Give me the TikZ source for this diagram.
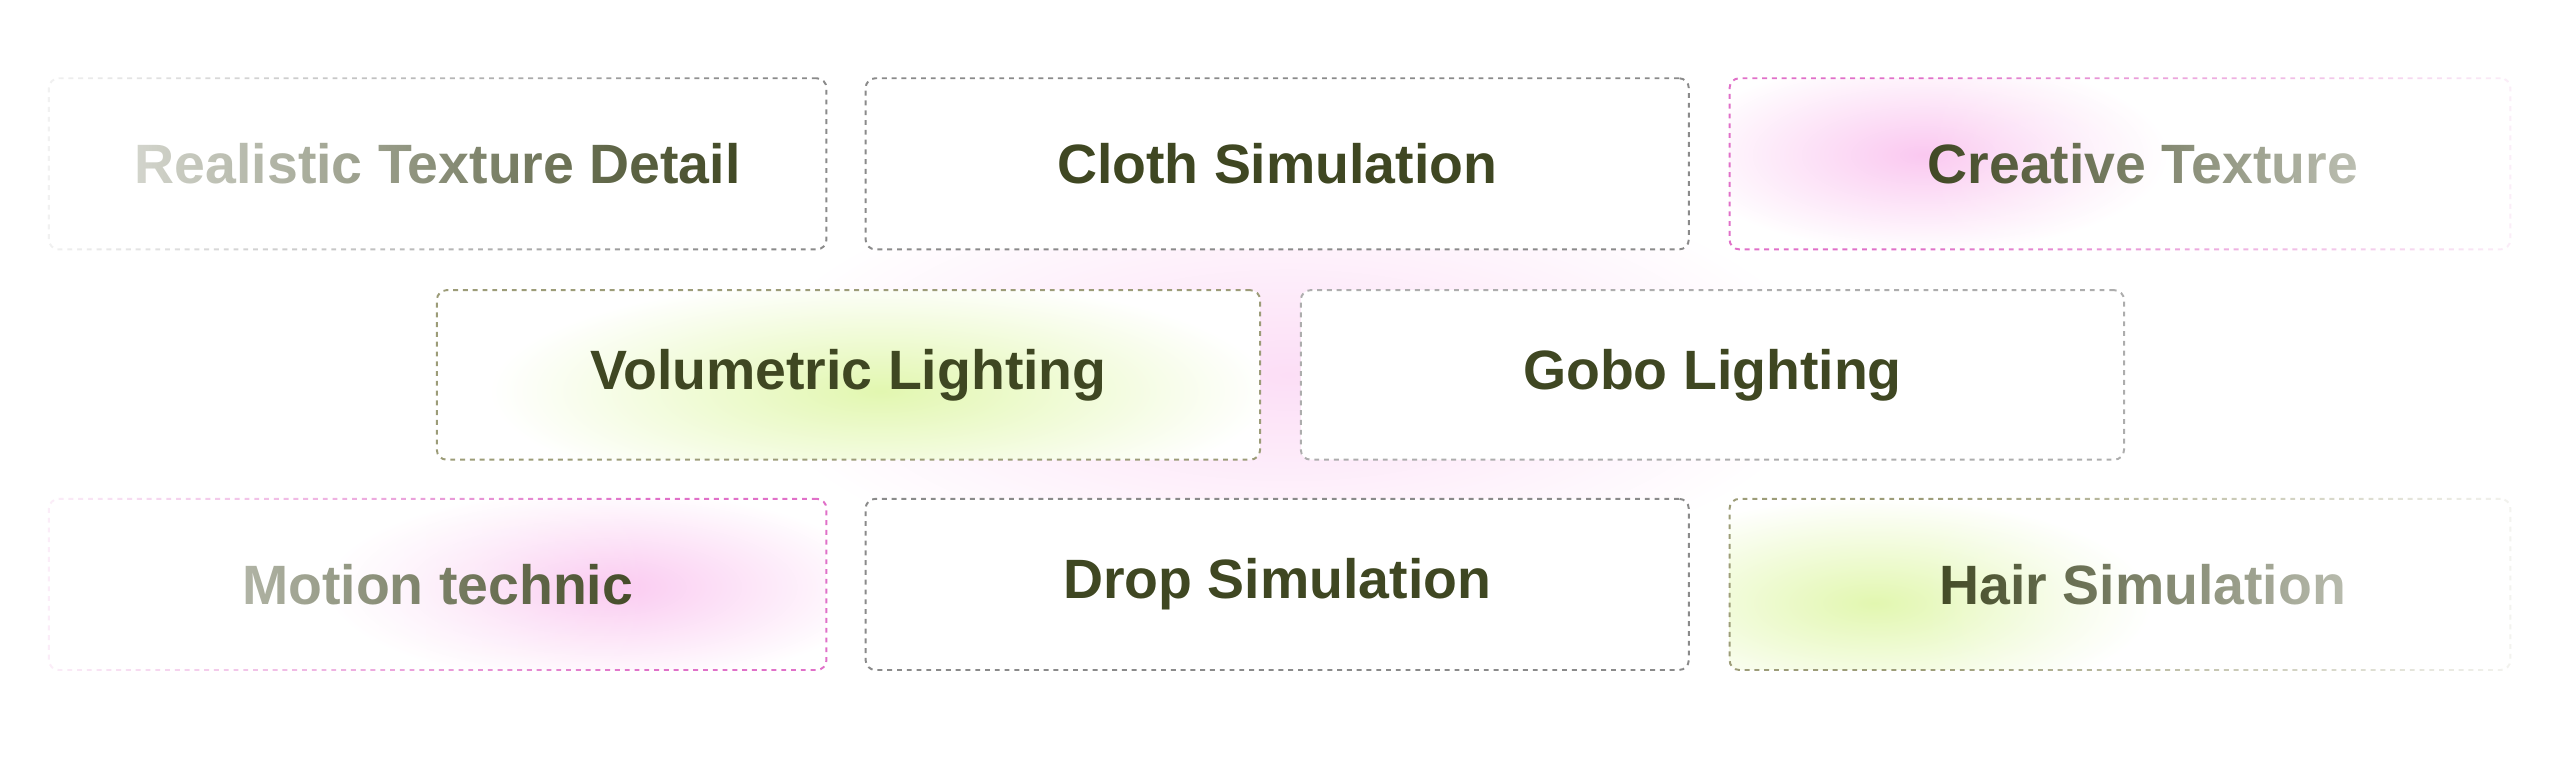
\documentclass[tikz,border=0pt]{standalone}
\usepackage{fontspec}
\setmainfont{Liberation Sans}
\usetikzlibrary{fadings}
\definecolor{olive}{HTML}{3F4722}
\definecolor{dashgray}{HTML}{8A8A8A}
\definecolor{dashpink}{HTML}{E070C8}
\definecolor{dashgreen}{HTML}{9C9C78}
\definecolor{glowpink}{HTML}{FAC8F0}
\definecolor{glowgreen}{HTML}{E2F7B0}
\tikzset{
	box/.style={draw=dashgray, dashed, line width=1.2pt, rounded corners=6pt,
		fill=white, minimum height=105pt, inner sep=0pt,
		text=olive, font=\fontsize{34}{40}\selectfont\bfseries},
	pinkbox/.style={box, draw=dashpink},
	greenbox/.style={box, draw=dashgreen},
	glow/.style={inner color=#1, outer color=white},
	fadeout/.style={fill=white, opacity=.9, path fading=#1}
}
\begin{document}
\begin{tikzpicture}[x=1pt,y=-1pt]
\useasboundingbox (0,0) rectangle (1568,469);

% background glow in the gaps
\shade[glow=glowpink!60] (790,230) ellipse (330 and 130);

% top row
\node[box, minimum width=477pt] (texture) at (268.5,100.5) {Realistic Texture Detail};
\node[box, minimum width=505pt] (cloth) at (783.5,100.5) {Cloth Simulation};
\begin{scope}
	\clip[rounded corners=6pt] (1061,48) rectangle (1540,153);
	\fill[white] (1061,48) rectangle (1540,153);
	\shade[glow=glowpink] (1180,95) ellipse (150 and 60);
\end{scope}
\node[pinkbox, fill=none, minimum width=479pt] (creative) at (1300.5,100.5) {\hspace{28pt}Creative Texture};

% middle row
\begin{scope}
	\clip[rounded corners=6pt] (268,178) rectangle (773,282);
	\fill[white] (268,178) rectangle (773,282);
	\shade[glow=glowgreen] (540,240) ellipse (240 and 70);
\end{scope}
\node[greenbox, fill=none, minimum width=505pt, minimum height=104pt] (volumetric) at (520.5,230) {Volumetric Lighting};
\node[box, draw=dashgray!70, minimum width=505pt, minimum height=104pt] (gobo) at (1050.5,230) {Gobo Lighting};

% bottom row
\begin{scope}
	\clip[rounded corners=6pt] (30,306) rectangle (507,411);
	\fill[white] (30,306) rectangle (507,411);
	\shade[glow=glowpink] (370,360) ellipse (170 and 60);
\end{scope}
\node[pinkbox, fill=none, minimum width=477pt] (motion) at (268.5,358.5) {Motion technic};
\node[box, minimum width=505pt] (drop) at (783.5,358.5) {Drop Simulation};
\begin{scope}
	\clip[rounded corners=6pt] (1061,306) rectangle (1540,411);
	\fill[white] (1061,306) rectangle (1540,411);
	\shade[glow=glowgreen] (1150,370) ellipse (170 and 65);
\end{scope}
\node[greenbox, fill=none, minimum width=479pt] (hair) at (1300.5,358.5) {\hspace{28pt}Hair Simulation};

% fade outer ends
\fill[fadeout=east] (20,40) rectangle (460,160);
\fill[fadeout=east] (20,298) rectangle (400,419);
\fill[fadeout=west] (1180,40) rectangle (1548,160);
\fill[fadeout=west] (1180,298) rectangle (1548,419);
\end{tikzpicture}
\end{document}
